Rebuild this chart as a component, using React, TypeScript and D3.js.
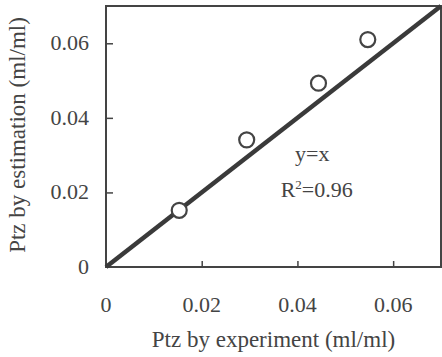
import React, { useRef, useEffect } from 'react';
import * as d3 from 'd3';

// measured points (experiment vs estimation)
const expValues = [0.0153, 0.0294, 0.0444, 0.0547];
const estValues = [0.0152, 0.0341, 0.0493, 0.061];
const xTicks = [0, 0.02, 0.04, 0.06];
const yTicks = [0, 0.02, 0.04, 0.06];
const fitLine = [0, 0.07];

const App = () => {
  const svgRef = useRef<SVGSVGElement>(null);

  useEffect(() => {
    const width = 442;
    const height = 357;
    const margin = { top: 6, right: 1, bottom: 90, left: 106 };
    const innerWidth = width - margin.left - margin.right;
    const innerHeight = height - margin.top - margin.bottom;
    const ink = '#444';
    const font = 'Liberation Serif, DejaVu Serif, serif';

    const root = d3.select(svgRef.current);
    root.selectAll('*').remove();
    root.attr('width', width).attr('height', height).style('display', 'block')
      .style('font-family', font);

    root.append('rect').attr('width', width).attr('height', height).attr('fill', '#fff');

    const svg = root.append('g').attr('transform', `translate(${margin.left},${margin.top})`);

    const x = d3.scaleLinear().domain([0, 0.07]).range([0, innerWidth]);
    const y = d3.scaleLinear().domain([0, 0.07]).range([innerHeight, 0]);

    // inward ticks, no labels
    const xAxis = d3.axisTop(x).tickValues(xTicks.slice(1)).tickSize(6).tickFormat(() => '');
    const yAxis = d3.axisRight(y).tickValues(yTicks.slice(1)).tickSize(7).tickFormat(() => '');

    svg.append('g')
      .attr('transform', `translate(0,${innerHeight})`)
      .call(xAxis)
      .call(g => g.select('.domain').remove())
      .selectAll('line').attr('stroke', ink).attr('stroke-width', 1.5);

    svg.append('g')
      .call(yAxis)
      .call(g => g.select('.domain').remove())
      .selectAll('line').attr('stroke', ink).attr('stroke-width', 1.5);

    // tick labels
    svg.append('g')
      .selectAll('text')
      .data(xTicks)
      .join('text')
      .attr('x', d => x(d))
      .attr('y', innerHeight + 45)
      .attr('text-anchor', 'middle')
      .style('font-family', font)
      .attr('font-size', 22)
      .attr('fill', ink)
      .text(d => (d === 0 ? '0' : d.toFixed(2)));

    svg.append('g')
      .selectAll('text')
      .data(yTicks)
      .join('text')
      .attr('x', -17)
      .attr('y', d => y(d) + 7)
      .attr('text-anchor', 'end')
      .style('font-family', font)
      .attr('font-size', 22)
      .attr('fill', ink)
      .text(d => (d === 0 ? '0' : d.toFixed(2)));

    // frame
    svg.append('rect')
      .attr('width', innerWidth)
      .attr('height', innerHeight)
      .attr('fill', 'none')
      .attr('stroke', ink)
      .attr('stroke-width', 2);

    // y = x line
    const line = d3.line<number>().x(d => x(d)).y(d => y(d));
    svg.append('path')
      .datum(fitLine)
      .attr('fill', 'none')
      .attr('stroke', '#3a3a3a')
      .attr('stroke-width', 4.5)
      .attr('d', line);

    // points
    svg.append('g')
      .selectAll('circle')
      .data(expValues.map((v, i) => [v, estValues[i]]))
      .join('circle')
      .attr('cx', d => x(d[0]))
      .attr('cy', d => y(d[1]))
      .attr('r', 7.5)
      .attr('fill', '#fff')
      .attr('stroke', ink)
      .attr('stroke-width', 2.2);

    // annotation
    svg.append('text')
      .attr('x', x(0.0431))
      .attr('y', y(0.0283))
      .attr('text-anchor', 'middle')
      .style('font-family', font)
      .attr('font-size', 22)
      .attr('fill', ink)
      .text('y=x');

    const r2 = svg.append('text')
      .attr('x', x(0.0365))
      .attr('y', y(0.0188))
      .style('font-family', font)
      .attr('font-size', 22)
      .attr('fill', ink);
    r2.append('tspan').text('R');
    r2.append('tspan').attr('dy', -8).attr('font-size', 13).text('2');
    r2.append('tspan').attr('dy', 8).text('=0.96');

    // axis titles
    svg.append('text')
      .attr('x', innerWidth / 2)
      .attr('y', innerHeight + 80)
      .attr('text-anchor', 'middle')
      .style('font-family', font)
      .attr('font-size', 23)
      .attr('fill', ink)
      .text('Ptz by experiment (ml/ml)');

    svg.append('text')
      .attr('transform', `translate(${-81},${innerHeight / 2 - 1.5}) rotate(-90)`)
      .attr('text-anchor', 'middle')
      .style('font-family', font)
      .attr('font-size', 23)
      .attr('fill', ink)
      .text('Ptz by estimation (ml/ml)');
  }, []);

  return (
    <div style={{ position: 'absolute', left: 0, top: 0 }}>
      <svg ref={svgRef}></svg>
    </div>
  );
};

export default App;
